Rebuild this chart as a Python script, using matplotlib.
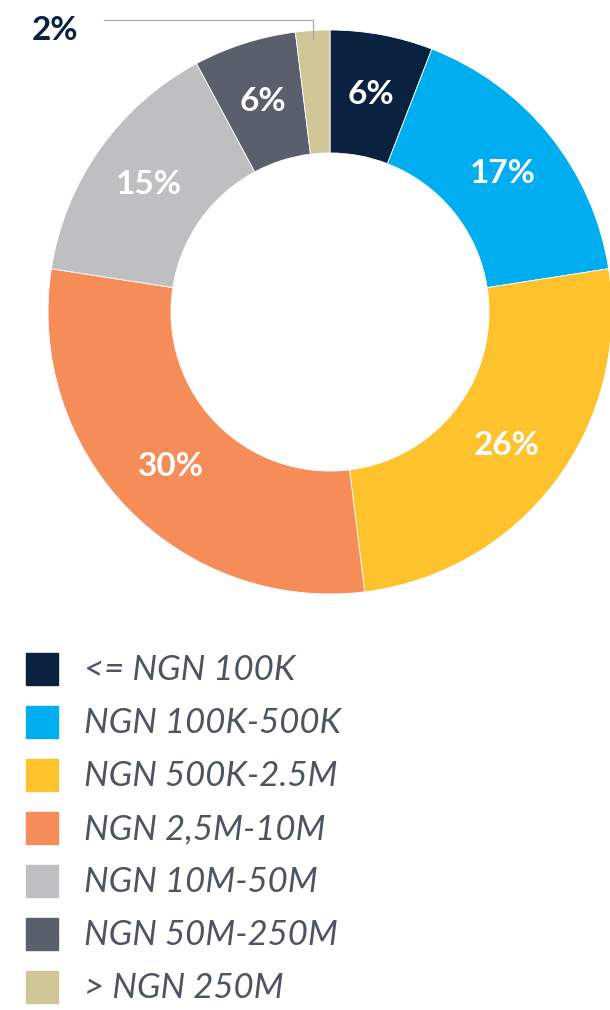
import numpy as np
import matplotlib
matplotlib.use("Agg")
import matplotlib.pyplot as plt
from matplotlib.patches import Rectangle

# ============================
# Donut chart - income bands (NGN)
# ============================

categories = ["<= NGN 100K", "NGN 100K-500K", "NGN 500K-2.5M", "NGN 2,5M-10M",
              "NGN 10M-50M", "NGN 50M-250M", "> NGN 250M"]
shares = [6, 17, 26, 30, 15, 6, 2]
colors = ["#0a2240", "#00aeef", "#fec22d", "#f68d59", "#bdbfc1", "#5a606b", "#cfc596"]

fig = plt.figure(figsize=(6.1, 10.1), dpi=100)

# ----------------------------
# Donut
# ----------------------------
ax = fig.add_axes([48 / 610, (1010 - 312 - 282) / 1010, 564 / 610, 564 / 1010])
wedges, _ = ax.pie(shares, colors=colors, startangle=90, counterclock=False,
                   radius=1.0, wedgeprops=dict(width=0.436, edgecolor="white", linewidth=0.6))
ax.set_xlim(-1, 1)
ax.set_ylim(-1, 1)
ax.set_aspect("equal")
ax.axis("off")

for i, (w, v) in enumerate(zip(wedges, shares)):
    mid = np.deg2rad((w.theta1 + w.theta2) / 2)
    if v <= 2:
        # small slice: label outside with leader line
        x0, y0 = 0.97 * np.cos(mid), 0.97 * np.sin(mid)
        ax.plot([x0, x0, -0.80], [y0, 1.035, 1.035], color="#a7a9ac", lw=0.9, clip_on=False)
        ax.text(-0.975, 1.0, f"{v}%", ha="center", va="center", color="#0a2240",
                fontsize=24, fontweight="bold", family=["Lato", "DejaVu Sans"])
        continue
    r = 0.785
    ax.text(r * np.cos(mid), r * np.sin(mid), f"{v}%", ha="center", va="center",
            color="white", fontsize=24, fontweight="bold", family=["Lato", "DejaVu Sans"])

# ----------------------------
# Legend
# ----------------------------
lax = fig.add_axes([0, 0, 1, 1])
lax.set_xlim(0, 610)
lax.set_ylim(1010, 0)
lax.axis("off")
for i, (c, lab) in enumerate(zip(colors, categories)):
    yc = 669 + i * 53
    lax.add_patch(Rectangle((26, yc - 16), 32, 32, color=c))
    lax.text(84, yc + 1, lab, ha="left", va="center", color="#4d5563",
             fontsize=25, fontstyle="italic", fontweight="normal",
             family=["Lato", "DejaVu Sans"])

fig.savefig("out.png", dpi=100)
plt.close()
